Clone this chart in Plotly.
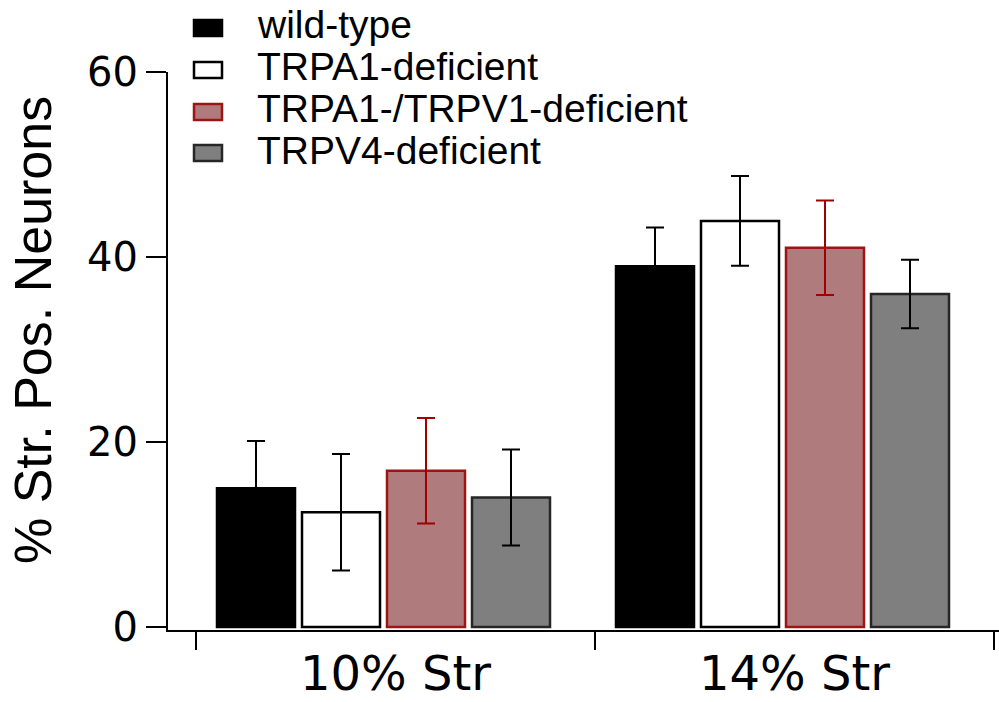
import plotly.graph_objects as go

# ---- data ----
categories = ["10% Str", "14% Str"]
series_names = ["wild-type", "TRPA1-deficient", "TRPA1-/TRPV1-deficient", "TRPV4-deficient"]
wild_type = [15.0, 39.0]
wild_type_err = [5.1, 4.2]
trpa1 = [12.4, 43.9]
trpa1_err = [6.3, 4.85]
trpa1_trpv1 = [16.9, 41.0]
trpa1_trpv1_err = [5.7, 5.1]
trpv4 = [14.0, 36.0]
trpv4_err = [5.2, 3.7]
y_tick_values = [0, 20, 40, 60]
y_axis_title = "% Str. Pos. Neurons"

values = [wild_type, trpa1, trpa1_trpv1, trpv4]
errors = [wild_type_err, trpa1_err, trpa1_trpv1_err, trpv4_err]

# ---- styles ----
fills = ["#000000", "#ffffff", "#b07b7c", "#7f7f7f"]
outlines = ["#000000", "#000000", "#9e1414", "#262626"]
err_colors = ["#000000", "#000000", "#a00000", "#000000"]

W, H = 999, 702
ML, MR, MT, MB = 168, 0, 72, 72
PW, PH = W - ML - MR, H - MT - MB

def px_x(p):
    return (p - ML) / PW

def px_y(p):
    return (H - MB - p) / PH

cat_px = 399.0
bar_w = 78 / cat_px
pitch = 85 / cat_px
first_off = (217 - 395.5) / cat_px

fig = go.Figure()
for i, name in enumerate(series_names):
    fig.add_trace(go.Bar(
        x=categories, y=values[i], name=name,
        width=bar_w, offset=first_off + i * pitch,
        marker=dict(color=fills[i], line=dict(color=outlines[i], width=2.5)),
        error_y=dict(type="data", array=errors[i], visible=True,
                     color=err_colors[i], thickness=2, width=9),
        showlegend=False,
    ))

x_left = -0.5 - (196 - ML) / cat_px
x_right = x_left + PW / cat_px

fig.update_layout(
    width=W, height=H,
    margin=dict(l=ML, r=MR, t=MT, b=MB, pad=0),
    paper_bgcolor="white", plot_bgcolor="white",
    barmode="overlay",
    xaxis=dict(type="category", range=[x_left, x_right], showline=True,
               linecolor="black", linewidth=2, ticks="outside", ticklen=18,
               tickwidth=2, tickcolor="black", tickson="boundaries",
               showgrid=False, zeroline=False, automargin=False,
               tickfont=dict(family="DejaVu Sans", size=48, color="black")),
    yaxis=dict(range=[-3 / 9.25, 60], tickvals=y_tick_values, showline=True,
               linecolor="black", linewidth=2, ticks="outside", ticklen=20,
               tickwidth=2, tickcolor="black", showgrid=False, zeroline=False,
               ticklabelstandoff=0, automargin=False,
               tickfont=dict(family="DejaVu Sans", size=40, color="black")),
    font=dict(family="Liberation Sans", color="black"),
)

# y axis title
fig.add_annotation(text=y_axis_title, xref="paper", yref="paper",
                   x=px_x(33), y=px_y(330), showarrow=False, textangle=-90,
                   xanchor="center", yanchor="middle",
                   font=dict(family="Liberation Sans, Arial, sans-serif", size=52, color="black"))

# legend
sw_centers = [28, 70, 112, 153]
txt_centers = [24, 66, 108, 150]
for i, name in enumerate(series_names):
    fig.add_shape(type="rect", xref="paper", yref="paper",
                  x0=px_x(194), x1=px_x(222), y0=px_y(sw_centers[i] + 8), y1=px_y(sw_centers[i] - 8),
                  fillcolor=fills[i], line=dict(color=outlines[i], width=2.5))
    fig.add_annotation(text=name, xref="paper", yref="paper",
                       x=px_x(255), y=px_y(txt_centers[i]), showarrow=False,
                       xanchor="left", yanchor="middle",
                       font=dict(family="Liberation Sans, Arial, sans-serif", size=39, color="black"))

fig.write_html("out.html", config={"displayModeBar": False},
               post_script="document.body.style.margin='0';document.body.style.overflow='hidden';")
